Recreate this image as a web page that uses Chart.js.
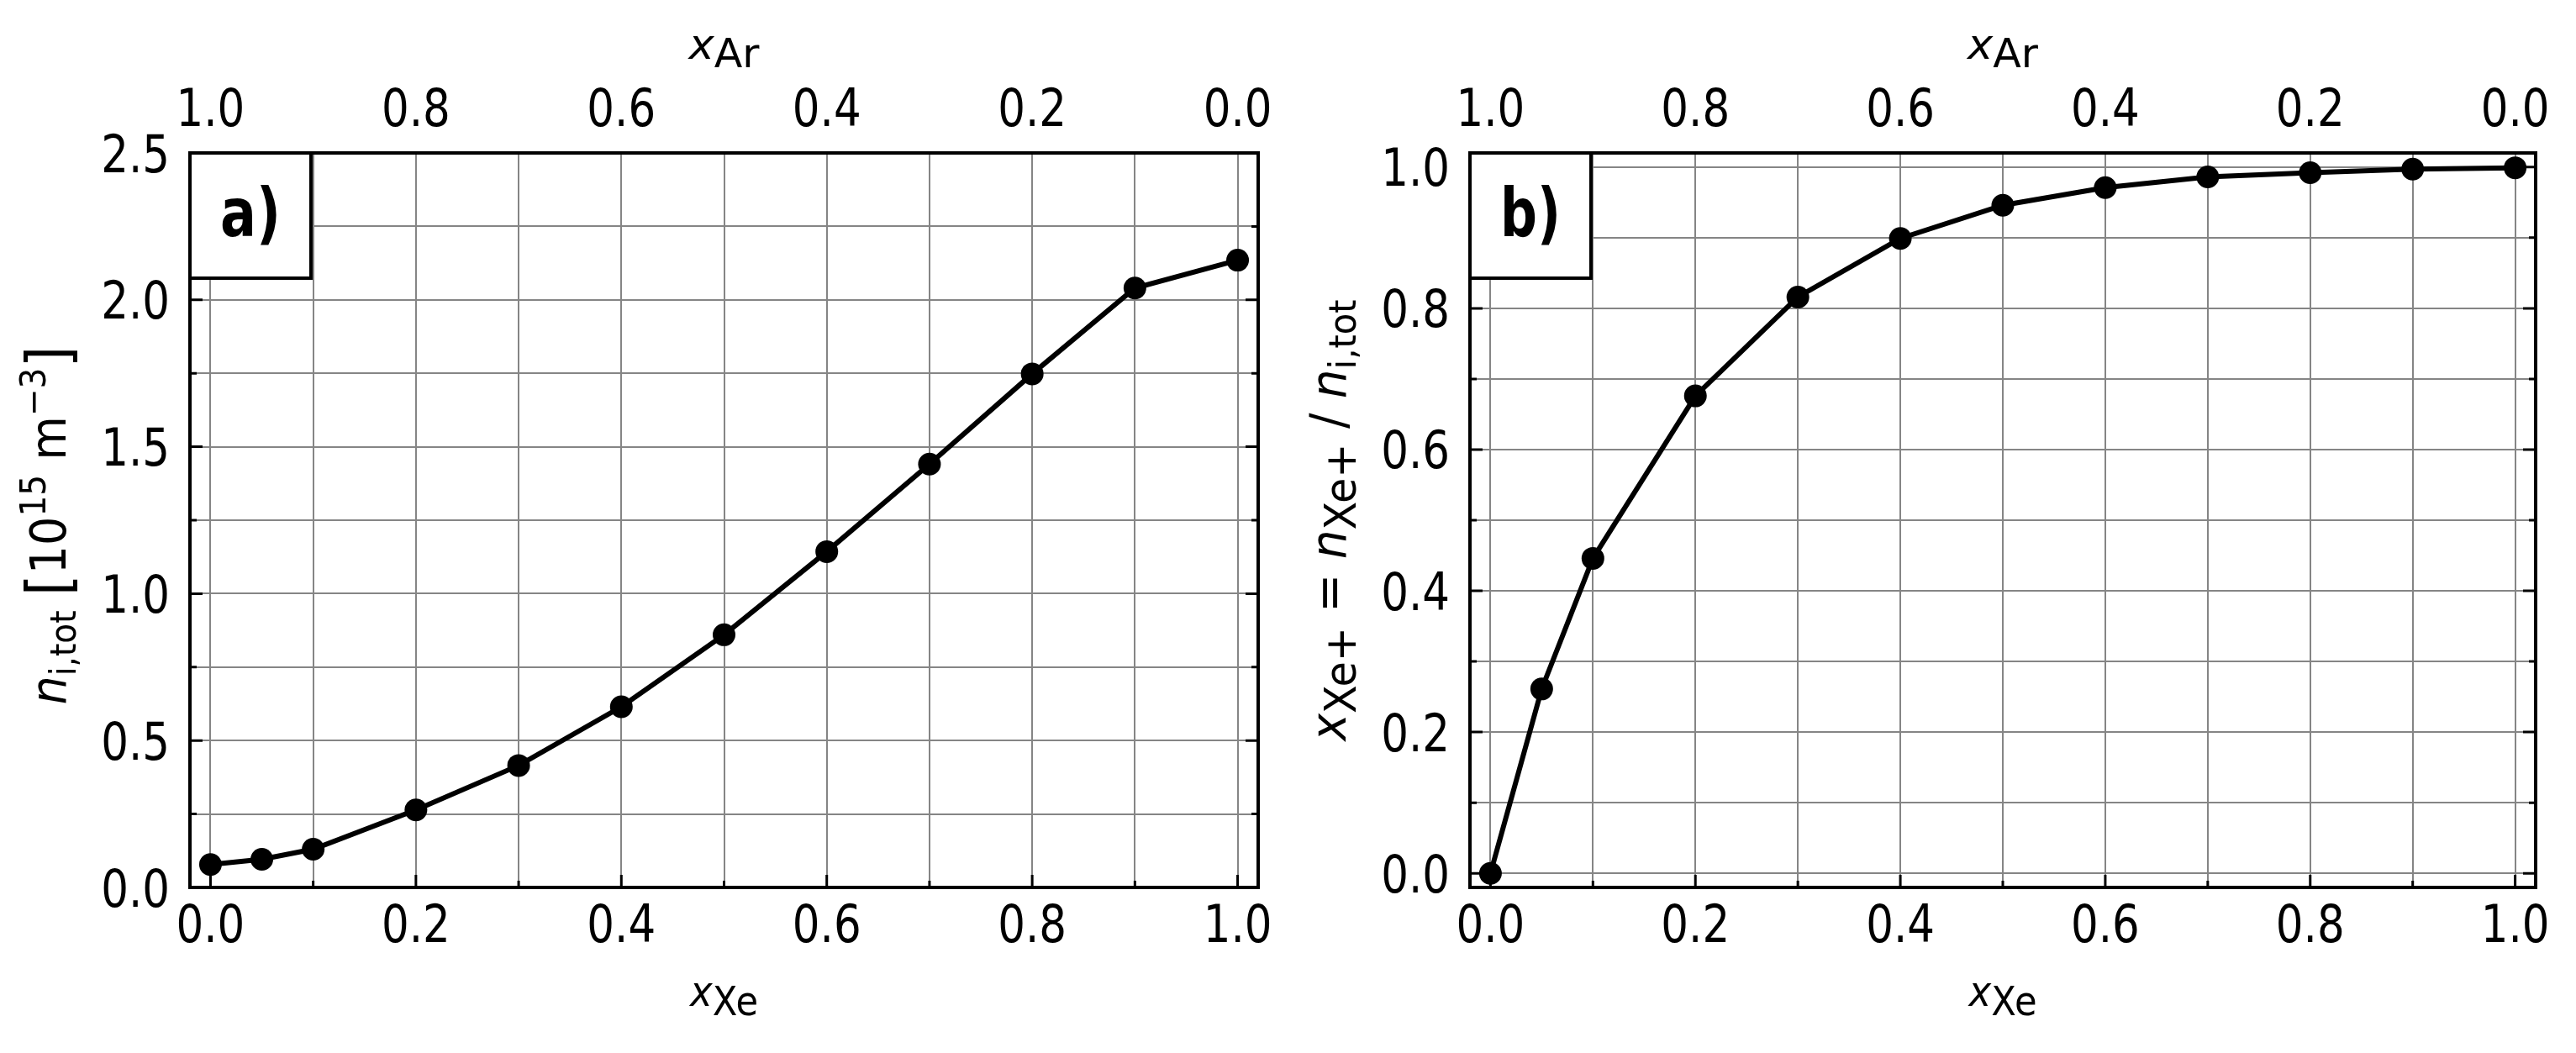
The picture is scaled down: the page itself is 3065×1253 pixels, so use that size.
<!DOCTYPE html>
<html>
<head>
<meta charset="utf-8">
<script src="https://cdn.jsdelivr.net/npm/chart.js@4.4.1/dist/chart.umd.min.js"></script>
<style>
    body { margin: 0; background: #fff; width: 3065px; height: 1253px; overflow: hidden; position: relative; }
    .panel { position: absolute; top: 0; height: 1253px; }
    #panelA { left: 0; width: 1540px; }
    #panelB { left: 1540px; width: 1525px; }
</style>
</head>
<body>
<div class="panel" id="panelA"><canvas id="chartA"></canvas></div>
<div class="panel" id="panelB"><canvas id="chartB"></canvas></div>
<script>
// ---- data ----
var xeFraction = [0, 0.05, 0.1, 0.2, 0.3, 0.4, 0.5, 0.6, 0.7, 0.8, 0.9, 1.0];
var ionDensityTotal = [0.078, 0.096, 0.13, 0.264, 0.415, 0.615, 0.86, 1.143, 1.441, 1.748, 2.04, 2.135];
var xeIonFraction = [0.0, 0.261, 0.446, 0.676, 0.816, 0.899, 0.946, 0.971, 0.986, 0.992, 0.997, 0.999];

// ---- ticks ----
var xGridTicks = [0, 0.1, 0.2, 0.3, 0.4, 0.5, 0.6, 0.7, 0.8, 0.9, 1.0];
var xMajorTicks = [0, 0.2, 0.4, 0.6, 0.8, 1.0];
var arMajorTicks = [1.0, 0.8, 0.6, 0.4, 0.2, 0.0];
var densityGridTicks = [0, 0.25, 0.5, 0.75, 1.0, 1.25, 1.5, 1.75, 2.0, 2.25, 2.5];
var densityMajorTicks = [0, 0.5, 1.0, 1.5, 2.0, 2.5];
var fractionGridTicks = [0, 0.1, 0.2, 0.3, 0.4, 0.5, 0.6, 0.7, 0.8, 0.9, 1.0];
var fractionMajorTicks = [0, 0.2, 0.4, 0.6, 0.8, 1.0];

var FONT = '"DejaVu Sans", sans-serif';
var GRID_COLOR = '#858585';

/*********************************
 *      text helpers             *
 ********************************/

// draws runs of text [text, size, style, dy] centred on x, squeezed to fitWidth
function drawRich(ctx, runs, x, y, fitWidth, rotate) {
    ctx.save();
    ctx.translate(x, y);
    if (rotate) ctx.rotate(-Math.PI / 2);
    ctx.textAlign = 'left';
    ctx.textBaseline = 'alphabetic';
    var total = 0;
    runs.forEach(function (r) {
        ctx.font = (r[2] || 'normal') + ' ' + r[1] + 'px ' + FONT;
        r.w = ctx.measureText(r[0]).width;
        total += r.w;
    });
    var k = fitWidth ? fitWidth / total : 1;
    ctx.scale(k, 1);
    var cx = -total / 2;
    runs.forEach(function (r) {
        ctx.font = (r[2] || 'normal') + ' ' + r[1] + 'px ' + FONT;
        ctx.fillText(r[0], cx, r[3] || 0);
        cx += r.w;
    });
    ctx.restore();
}

// tick label, squeezed like the narrow sans of the original
function drawTickLabel(ctx, text, x, y, align) {
    var squeeze = 0.83;
    ctx.save();
    ctx.font = '62px ' + FONT;
    ctx.textAlign = 'left';
    ctx.textBaseline = 'alphabetic';
    var w = ctx.measureText(text).width * squeeze;
    var left = align === 'right' ? x - w : x - w / 2;
    ctx.translate(left, y);
    ctx.scale(squeeze, 1);
    ctx.fillText(text, 0, 0);
    ctx.restore();
}

/*********************************
 *   frame, ticks, labels plugin *
 ********************************/

var panelDecor = {
    id: 'panelDecor',
    afterDatasetsDraw: function (chart, args, o) {
        var ctx = chart.ctx;
        var a = chart.chartArea;
        var sx = chart.scales.x, sy = chart.scales.y, sTop = chart.scales.x2;
        ctx.save();
        ctx.strokeStyle = '#000';
        ctx.fillStyle = '#000';

        // inward ticks
        ctx.lineWidth = 3;
        ctx.beginPath();
        xGridTicks.forEach(function (v) {
            var px = sx.getPixelForValue(v);
            var len = xMajorTicks.indexOf(v) >= 0 ? 15 : 8;
            ctx.moveTo(px, a.bottom);
            ctx.lineTo(px, a.bottom - len);
        });
        o.yGrid.forEach(function (v) {
            var py = sy.getPixelForValue(v);
            var len = o.yMajor.indexOf(v) >= 0 ? 15 : 8;
            ctx.moveTo(a.left, py); ctx.lineTo(a.left + len, py);
            ctx.moveTo(a.right, py); ctx.lineTo(a.right - len, py);
        });
        ctx.stroke();

        // frame
        ctx.lineWidth = 4;
        ctx.strokeRect(a.left, a.top, a.right - a.left, a.bottom - a.top);

        // panel letter box
        ctx.fillStyle = '#fff';
        ctx.fillRect(a.left, a.top, 144, 149);
        ctx.strokeRect(a.left, a.top, 144, 149);
        ctx.fillStyle = '#000';
        drawRich(ctx, [[o.letter, 81, 'bold', 0]], a.left + 72, a.top + 99, 72, false);

        // tick labels
        xMajorTicks.forEach(function (v) {
            drawTickLabel(ctx, v.toFixed(1), sx.getPixelForValue(v), a.bottom + 65, 'center');
        });
        arMajorTicks.forEach(function (v) {
            drawTickLabel(ctx, v.toFixed(1), sTop.getPixelForValue(v), a.top - 32, 'center');
        });
        o.yMajor.forEach(function (v) {
            drawTickLabel(ctx, v.toFixed(1), a.left - 24, sy.getPixelForValue(v) + 22.5, 'right');
        });

        // axis titles
        var midX = (a.left + a.right) / 2;
        var midY = (a.top + a.bottom) / 2;
        drawRich(ctx, [['x', 50, 'italic', 0], ['Xe', 48, 'normal', 11]], midX, a.bottom + 141, 81, false);
        drawRich(ctx, [['x', 50, 'italic', 0], ['Ar', 48, 'normal', 10]], midX, a.top - 112, 84, false);
        drawRich(ctx, o.yTitle, a.left - 148, midY + o.yTitleShift, o.yTitleWidth, true);

        ctx.restore();
    }
};

function buildScales(yMin, yMax, yGrid, leftWidth) {
    return {
        x: {
            type: 'linear', position: 'bottom', min: -0.02, max: 1.02,
            afterBuildTicks: function (s) { s.ticks = xGridTicks.map(function (v) { return { value: v }; }); },
            afterFit: function (s) { s.height = 1253 - 1056; },
            grid: { color: GRID_COLOR, lineWidth: 2, drawTicks: false },
            border: { display: false },
            ticks: { display: false }
        },
        x2: {
            type: 'linear', position: 'top', min: -0.02, max: 1.02, reverse: true,
            afterFit: function (s) { s.height = 182; },
            grid: { display: false },
            border: { display: false },
            ticks: { display: false }
        },
        y: {
            type: 'linear', position: 'left', min: yMin, max: yMax,
            afterBuildTicks: function (s) { s.ticks = yGrid.map(function (v) { return { value: v }; }); },
            afterFit: function (s) { s.width = leftWidth; },
            grid: { color: GRID_COLOR, lineWidth: 2, drawTicks: false },
            border: { display: false },
            ticks: { display: false }
        }
    };
}

function makePanel(canvasId, values, scales, rightPad, decor) {
    var points = xeFraction.map(function (x, i) { return { x: x, y: values[i] }; });
    return new Chart(document.getElementById(canvasId), {
        type: 'line',
        data: {
            datasets: [{
                data: points,
                borderColor: '#000',
                borderWidth: 6,
                backgroundColor: '#000',
                pointRadius: 13.5,
                pointBackgroundColor: '#000',
                pointBorderWidth: 0,
                tension: 0
            }]
        },
        options: {
            responsive: true,
            maintainAspectRatio: false,
            animation: false,
            layout: { padding: { left: 0, top: 0, bottom: 0, right: rightPad }, autoPadding: false },
            plugins: { legend: { display: false }, tooltip: { enabled: false }, panelDecor: decor },
            scales: scales
        },
        plugins: [panelDecor]
    });
}

// a) total ion density
makePanel('chartA', ionDensityTotal, buildScales(0, 2.5, densityGridTicks, 226), 43, {
    letter: 'a)',
    yGrid: densityGridTicks,
    yMajor: densityMajorTicks,
    yTitleShift: 6,
    yTitleWidth: 427,
    yTitle: [
        ['n', 58, 'italic', 0], ['i,tot', 42, 'normal', 12], [' ', 58, 'normal', 0],
        ['[', 72, 'normal', 4], ['10', 58, 'normal', 0], ['15', 42, 'normal', -24],
        [' ', 58, 'normal', 0], ['m', 58, 'normal', 0], ['\u22123', 42, 'normal', -24],
        [']', 72, 'normal', 4]
    ]
});

// b) Xe+ fraction of the ions
makePanel('chartB', xeIonFraction, buildScales(-0.02, 1.02, fractionGridTicks, 209), 48, {
    letter: 'b)',
    yGrid: fractionGridTicks,
    yMajor: fractionMajorTicks,
    yTitleShift: 0,
    yTitleWidth: 525,
    yTitle: [
        ['x', 58, 'italic', 0], ['Xe+', 52, 'normal', 12], [' ', 58, 'normal', 0],
        ['=', 58, 'normal', 0], [' ', 58, 'normal', 0], ['n', 58, 'italic', 0],
        ['Xe+', 52, 'normal', 12], [' ', 58, 'normal', 0], ['/', 58, 'normal', 0],
        [' ', 58, 'normal', 0], ['n', 58, 'italic', 0], ['i,tot', 44, 'normal', 12]
    ]
});
</script>
</body>
</html>
